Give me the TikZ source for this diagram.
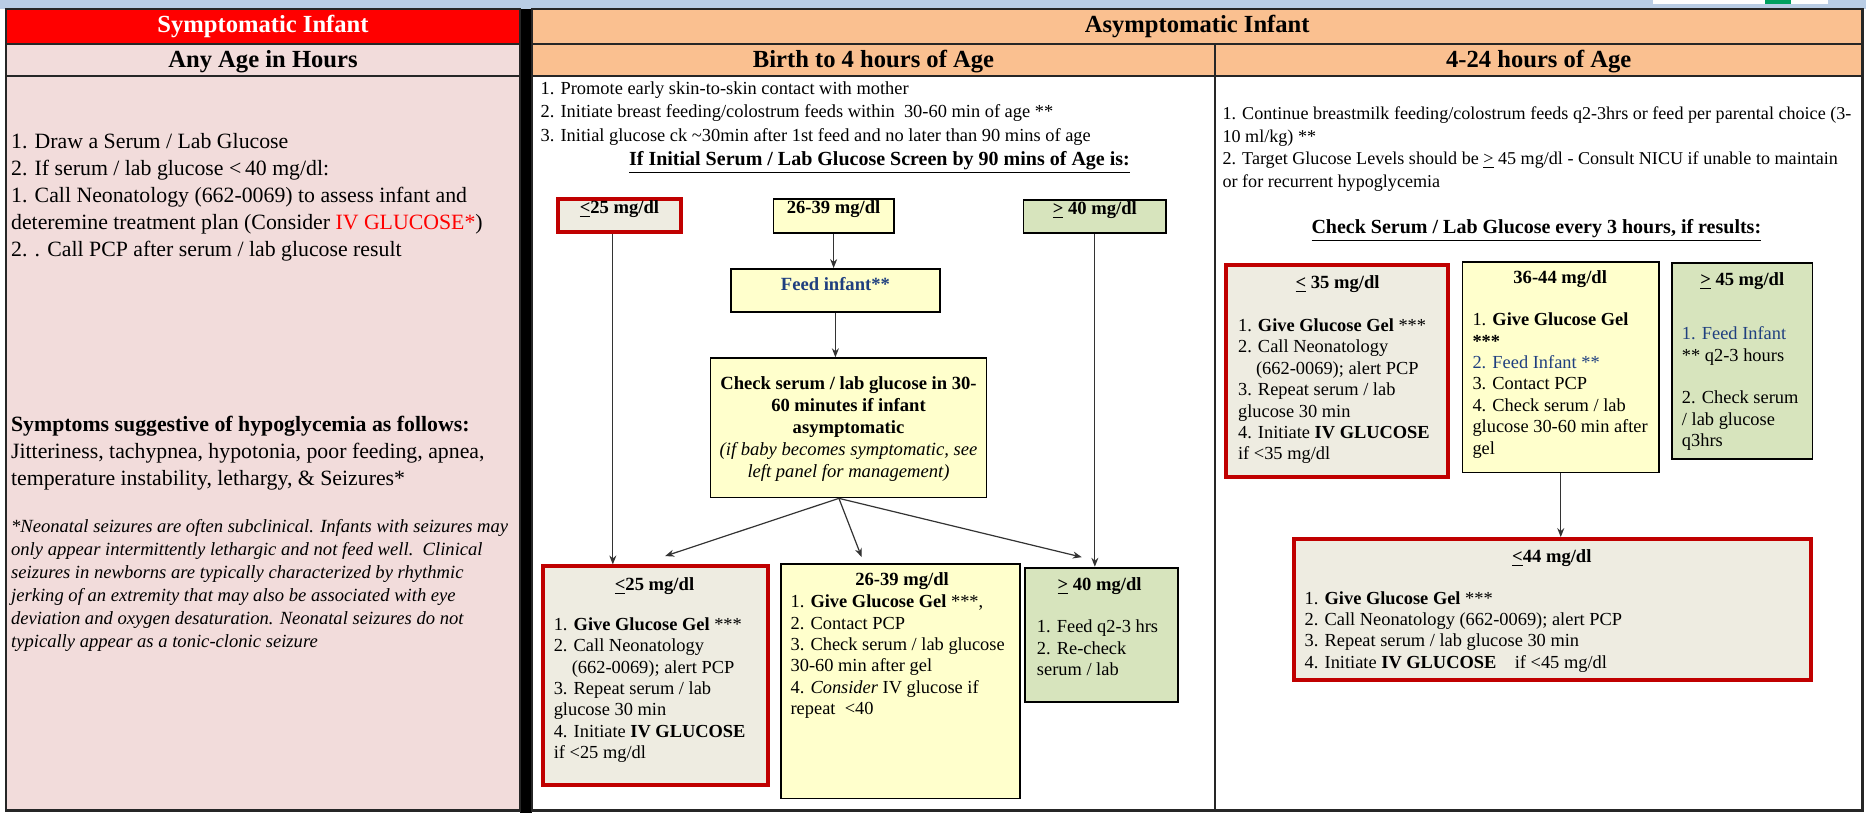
\documentclass[tikz,border=0pt]{standalone}
\usepackage{fontspec}
\setmainfont{Liberation Serif}
\usetikzlibrary{fit,arrows.meta,calc}
\definecolor{hdrred}{HTML}{FF0000}
\definecolor{pinkbg}{HTML}{F2DCDB}
\definecolor{orangebg}{HTML}{FAC090}
\definecolor{yelbg}{HTML}{FFFFCC}
\definecolor{grnbg}{HTML}{D7E4BD}
\definecolor{beigebg}{HTML}{EEECE1}
\definecolor{boxred}{HTML}{C00000}
\definecolor{fblue}{HTML}{1F3F7F}
\definecolor{stripblue}{HTML}{B9CDE5}
\definecolor{framec}{HTML}{262626}
\definecolor{logogreen}{HTML}{00A060}
\newcommand{\ule}{\underline{<}}
\newcommand{\uge}{\underline{>}}
\begin{document}
\begin{tikzpicture}[x=0.595pt,y=-0.595pt,
  frame/.style={draw=framec,line width=1.1pt},
  tx/.style={font=\fontsize{9.2}{10.7}\selectfont, inner sep=0pt},
  txb/.style={font=\fontsize{9.3}{10.7}\selectfont\bfseries, inner sep=0pt},
  lefttx/.style={font=\fontsize{10.9}{13.6}\selectfont, inner sep=0pt},
  toptx/.style={font=\fontsize{9.2}{11.6}\selectfont, inner sep=0pt},
  hdr/.style={font=\fontsize{12.3}{14}\selectfont\bfseries, inner sep=0pt},
  redbox/.style={draw=boxred,line width=2pt,fill=beigebg,inner sep=0pt},
  yelbox/.style={draw=black,line width=0.9pt,fill=yelbg,inner sep=0pt},
  grnbox/.style={draw=black,line width=0.9pt,fill=grnbg,inner sep=0pt},
  arr/.style={draw=black!80,line width=0.6pt,-{Stealth[length=4.5pt,width=3.5pt]}}]

\useasboundingbox (0,0) rectangle (1568,683);
\fill[white] (0,0) rectangle (1568,683);
% top strip
\fill[stripblue] (0,0) rectangle (1568,7.5);
\fill[white] (1389,0) rectangle (1536,3);
\fill[logogreen] (1483,0) rectangle (1505,3);

% cells
\fill[hdrred] (5,7.5) rectangle (437,37);
\fill[pinkbg] (5,37) rectangle (437,681);
\fill[orangebg] (447,7.5) rectangle (1565,64);
\fill[black] (437,7.5) rectangle (447,683);
\draw[frame] (5,7.5) rectangle (437,681);
\draw[frame] (5,37) -- (437,37);
\draw[frame] (5,64) -- (437,64);
\draw[frame] (447,7.5) rectangle (1565,681);
\draw[frame] (447,37) -- (1565,37);
\draw[frame] (447,64) -- (1565,64);
\draw[frame] (1021,37) -- (1021,681);

% headers
\node[hdr,text=white] (h1) at (221,22.5) {Symptomatic Infant};
\node[hdr] (h2) at (221,51.5) {Any Age in Hours};
\node[hdr] (h3) at (1006,22.5) {Asymptomatic Infant};
\node[hdr] (h4) at (734,51.5) {Birth to 4 hours of Age};
\node[hdr] (h5) at (1293,51.5) {4-24 hours of Age};

% left panel
\node[lefttx,anchor=base west] (l1) at (9,124.5) {\parbox[t]{300pt}{%
1. Draw a Serum / Lab Glucose\\
2. If serum / lab glucose <\,40 mg/dl:\\
1. Call Neonatology (662-0069) to assess infant and\\
deteremine treatment plan (Consider {\color{hdrred}IV GLUCOSE*})\\
2. . Call PCP after serum / lab glucose result}};
\node[lefttx,anchor=base west] (l2) at (9,362.5) {\parbox[t]{300pt}{%
\textbf{Symptoms suggestive of hypoglycemia as follows:}\\
Jitteriness, tachypnea, hypotonia, poor feeding, apnea,\\
temperature instability, lethargy, \& Seizures*}};
\node[inner sep=0pt,font=\fontsize{9.3}{11.5}\selectfont\itshape,anchor=base west] (l3) at (9,447.4) {\parbox[t]{300pt}{%
\relax*Neonatal seizures are often subclinical. Infants with seizures may\\
only appear intermittently lethargic and not feed well.\ \ Clinical\\
seizures in newborns are typically characterized by rhythmic\\
jerking of an extremity that may also be associated with eye\\
deviation and oxygen desaturation. Neonatal seizures do not\\
typically appear as a tonic-clonic seizure}};

% middle top text
\node[toptx,anchor=base west] (m1) at (454,79.6) {\parbox[t]{400pt}{%
1. Promote early skin-to-skin contact with mother\\
2. Initiate breast feeding/colostrum feeds within\ \ 30-60 min of age **\\
3. Initial glucose ck \textasciitilde30min after 1st feed and no later than 90 mins of age}};
\node[inner sep=0pt,font=\fontsize{10}{12}\selectfont\bfseries,anchor=base] (mh) at (739,139) {\underline{If Initial Serum / Lab Glucose Screen by 90 mins of Age is:}};

% right top text
\node[toptx,anchor=base west] (r1) at (1027,100.6) {\parbox[t]{400pt}{\fontsize{9.05}{11.3}\selectfont
1. Continue breastmilk feeding/colostrum feeds q2-3hrs or feed per parental choice (3-\\
10 ml/kg) **\\
2. Target Glucose Levels should be \uge{} 45 mg/dl - Consult NICU if unable to maintain\\
or for recurrent hypoglycemia}};
\node[inner sep=0pt,font=\fontsize{10}{12}\selectfont\bfseries,anchor=base] (rh) at (1291,196) {\underline{Check Serum / Lab Glucose every 3 hours, if results:}};

% middle flow boxes
\node[redbox,txb,fit={(469,167)(572,195)}] (t25) {\ule25 mg/dl};
\node[yelbox,txb,fit={(650,167)(751,196)}] (t2639) {26-39 mg/dl};
\node[grnbox,txb,fit={(860,168)(980,196)}] (t40) {\uge{} 40 mg/dl};
\node[yelbox,txb,text=fblue,fit={(614,226)(790,262)}] (feed) {Feed infant**};
\node[yelbox,fit={(597,301)(829,418)}] (chk) {};
\node[redbox,fit={(456,476)(645,660)}] (b25) {};
\node[yelbox,fit={(656,474)(857,671)}] (b2639) {};
\node[grnbox,fit={(861,477)(990,590)}] (b40) {};

\node[inner sep=0pt,font=\fontsize{9.3}{11}\selectfont,anchor=base] (chkt) at (713,327.6) {\parbox[t]{160pt}{\centering
\textbf{Check serum / lab glucose in 30-}\\
\textbf{60 minutes if infant}\\
\textbf{asymptomatic}\\
\textit{(if baby becomes symptomatic, see}\\
\textit{left panel for management)}}};

\node[txb,anchor=base] (b25h) at (550,496.5) {\ule25 mg/dl};
\node[tx,anchor=base west] (b25t) at (465,529.6) {\parbox[t]{200pt}{%
1. \textbf{Give Glucose Gel} ***\\
2. Call Neonatology\\
\hspace*{9pt}(662-0069); alert PCP\\
3. Repeat serum / lab\\
glucose 30 min\\
4. Initiate \textbf{IV GLUCOSE}\\
if <25 mg/dl}};

\node[txb,anchor=base] (b2639h) at (758,491.6) {26-39 mg/dl};
\node[tx,anchor=base west] (b2639t) at (664,510.6) {\parbox[t]{200pt}{%
1. \textbf{Give Glucose Gel} ***,\\
2. Contact PCP\\
3. Check serum / lab glucose\\
30-60 min after gel\\
4. \textit{Consider} IV glucose if\\
repeat\ \ <40}};

\node[txb,anchor=base] (b40h) at (924,496.6) {\uge{} 40 mg/dl};
\node[tx,anchor=base west] (b40t) at (871,531.6) {\parbox[t]{200pt}{%
1. Feed q2-3 hrs\\
2. Re-check\\
serum / lab}};

% arrows middle
\draw[arr] ([xshift=-3.3pt]t25.south) -- ([xshift=-3.3pt]t25.south |- b25.north);
\draw[arr] (t2639.south) -- (t2639.south |- feed.north);
\draw[arr] (feed.south) -- (feed.south |- chk.north);
\draw[arr] ([xshift=-4.8pt]chk.south) -- ([xshift=5pt,yshift=4.2pt]b25.north);
\draw[arr] ([xshift=-4.8pt]chk.south) -- ([xshift=-19.3pt,yshift=3pt]b2639.north);
\draw[arr] ([xshift=-4.8pt]chk.south) -- ([xshift=-9.8pt,yshift=4.8pt]b40.north);
\draw[arr] (t40.south) -- (t40.south |- b40.north);

% right flow boxes
\node[redbox,fit={(1030,223)(1217,401)}] (r35) {};
\node[yelbox,fit={(1229,220)(1394,397)}] (r3644) {};
\node[grnbox,fit={(1405,221)(1523,386)}] (r45) {};
\node[redbox,fit={(1087,453)(1522,571)}] (r44) {};

\node[txb,anchor=base] (r35h) at (1124,242.6) {\ule{} 35 mg/dl};
\node[tx,anchor=base west] (r35t) at (1040,278.6) {\parbox[t]{200pt}{%
1. \textbf{Give Glucose Gel} ***\\
2. Call Neonatology\\
\hspace*{9pt}(662-0069); alert PCP\\
3. Repeat serum / lab\\
glucose 30 min\\
4. Initiate \textbf{IV GLUCOSE}\\
if <35 mg/dl}};

\node[txb,anchor=base] (r3644h) at (1311,238.6) {36-44 mg/dl};
\node[tx,anchor=base west] (r3644t) at (1237,273.6) {\parbox[t]{200pt}{%
1. \textbf{Give Glucose Gel}\\
\textbf{***}\\
{\color{fblue}2. Feed Infant **}\\
3. Contact PCP\\
4. Check serum / lab\\
glucose 30-60 min after\\
gel}};

\node[txb,anchor=base] (r45h) at (1464,239.6) {\uge{} 45 mg/dl};
\node[tx,anchor=base west] (r45t) at (1413,274.6) {\parbox[t]{200pt}{%
{\color{fblue}1. Feed Infant}\\
\relax** q2-3 hours\\[10.7pt]
2. Check serum\\
/ lab glucose\\
q3hrs}};

\node[txb,anchor=base] (r44h) at (1304,472.6) {\ule44 mg/dl};
\node[tx,anchor=base west] (r44t) at (1096,507.6) {\parbox[t]{300pt}{%
1. \textbf{Give Glucose Gel} ***\\
2. Call Neonatology (662-0069); alert PCP\\
3. Repeat serum / lab glucose 30 min\\
4. Initiate \textbf{IV GLUCOSE}\quad if <45 mg/dl}};

\draw[arr] (r3644.south) -- (r3644.south |- r44.north);
\end{tikzpicture}
\end{document}
